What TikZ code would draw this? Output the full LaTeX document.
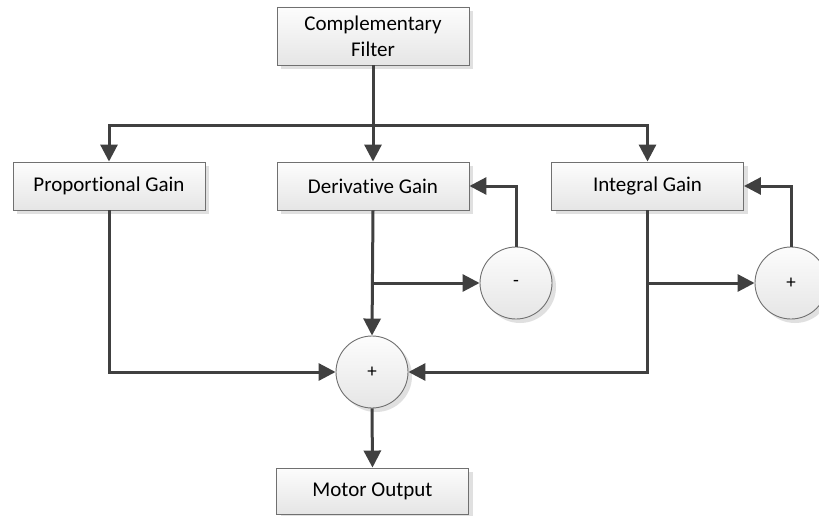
\documentclass[tikz,border=0pt]{standalone}
\usepackage{fontspec}
\setmainfont{Carlito}[Ligatures={NoCommon,NoContextual},RawFeature={-liga;-clig;-calt}]
\usetikzlibrary{arrows.meta,shadows}
\definecolor{linec}{HTML}{404040}
\definecolor{borderc}{HTML}{707070}
\tikzset{
  base/.style={draw=borderc, line width=0.9pt, top color=white!99!black, bottom color=white!90!black,
    drop shadow={shadow xshift=4pt, shadow yshift=-4pt, fill=black!12, opacity=1},
    font=\fontsize{21}{26}\selectfont, inner sep=0pt, align=center},
  blockbox/.style={base, rectangle, minimum width=192pt, minimum height=48pt},
  sumcirc/.style={base, circle, minimum size=72pt, font=\fontsize{19}{22}\selectfont},
  arr/.style={draw=linec, line width=3pt, -{Triangle[length=17pt,width=17pt]}},
  ln/.style={draw=linec, line width=3pt}
}
\begin{document}
\begin{tikzpicture}[x=1pt,y=-1pt]
\clip (0,0) rectangle (819,516);
\fill[white] (0,0) rectangle (819,516);
\node[blockbox, minimum height=58pt] (comp) at (373,36) {Complementary\\Filter};
\node[blockbox] (prop) at (109,186) {Proportional Gain};
\node[blockbox] (deriv) at (373,186) {Derivative Gain};
\node[blockbox] (integ) at (647.5,186) {Integral Gain};
\node[blockbox, minimum height=46pt] (motor) at (372.5,491) {Motor Output};
\node[sumcirc] (minus) at (516,283) {-};
\node[sumcirc] (plusr) at (791,283) {+};
\node[sumcirc] (sum) at (372,372) {+};
\coordinate (bus) at (373,126);
% distribution
\draw[arr] (comp.south) -- (deriv.north);
\draw[arr] (bus) -| (prop.north);
\draw[arr] (bus) -| (integ.north);
% derivative path
\draw[arr] (deriv.south) -- (sum.north);
\draw[arr] (deriv.south |- minus.west) -- (minus.west);
\draw[arr] (minus.north) |- (deriv.east);
% integral path
\draw[arr] (integ.south) |- (sum.east);
\draw[arr] (integ.south |- plusr.west) -- (plusr.west);
\draw[arr] (plusr.north) |- (integ.east);
% proportional path
\draw[arr] (prop.south) |- (sum.west);
% output
\draw[arr] (sum.south) -- (motor.north);
\end{tikzpicture}
\end{document}
